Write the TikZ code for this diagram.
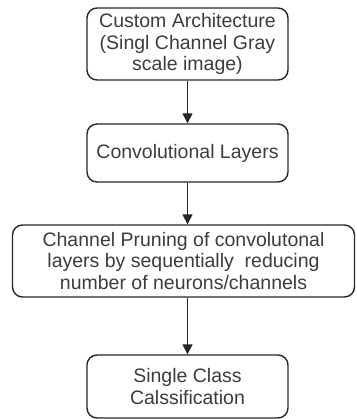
\documentclass[tikz,border=0pt]{standalone}
\usepackage{fontspec}
\setmainfont{Liberation Sans}
\usetikzlibrary{arrows.meta}
\definecolor{txtgray}{HTML}{3C3C3C}
\definecolor{linegray}{HTML}{262626}

\begin{document}
\begin{tikzpicture}[x=1pt, y=-1pt,
    stage/.style={draw=linegray, line width=1.4pt, rounded corners=10pt,
                  align=center, inner sep=0pt, text=txtgray,
                  font=\fontsize{19.5}{21.5}\selectfont},
    flow/.style={draw=linegray, line width=1.4pt,
                 -{Triangle[width=10pt,length=10pt]}}]
\useasboundingbox (0,0) rectangle (356,419);
\node[stage, minimum width=201pt, minimum height=72pt] (arch) at (187.5,44)
     {Custom Architecture\\(Singl Channel Gray\\scale image)};
\node[stage, minimum width=201pt, minimum height=58pt] (conv) at (187.5,153)
     {Convolutional Layers};
\node[stage, minimum width=342pt, minimum height=72pt] (prune) at (183.5,261)
     {Channel Pruning of convolutonal\\layers by sequentially\ \ reducing\\number of neurons/channels};
\node[stage, minimum width=201pt, minimum height=63pt] (cls) at (187.5,386.5)
     {Single Class\\Calssification};
\draw[flow] (arch) -- (conv);
\draw[flow] (conv.south) -- (conv.south |- prune.north);
\draw[flow] (conv.south |- prune.south) -- (cls);
\end{tikzpicture}
\end{document}
